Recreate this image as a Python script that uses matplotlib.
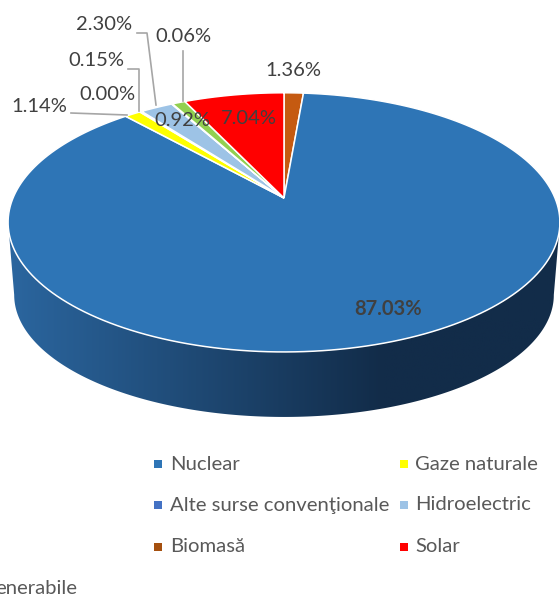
"""3D style pie of the electricity mix, drawn by hand as matplotlib has no 3D pie"""
import numpy as np
import matplotlib
matplotlib.use('Agg')
import matplotlib.pyplot as plt
from matplotlib.patches import Polygon, Rectangle
from matplotlib.colors import LinearSegmentedColormap

plt.rcParams['font.family'] = ['Lato', 'DejaVu Sans']

# slices clockwise from 12 o'clock
slice_values = [1.36, 87.03, 1.14, 0.00, 0.15, 2.30, 0.06, 0.92, 7.04]
slice_colors = ['#c55a11', '#2e75b6', '#ffff00', '#4472c4', '#ed7d31', '#9dc3e6', '#a5a5a5', '#92d050', '#ff0000']
value_labels = ['1.36%', '87.03%', '1.14%', '0.00%', '0.15%', '2.30%', '0.06%', '0.92%', '7.04%']

legend_labels = ['Nuclear', 'Gaze naturale', 'Alte surse convenţionale', 'Hidroelectric', 'Biomasă', 'Solar']
legend_colors = ['#2e75b6', '#ffff00', '#4472c4', '#9dc3e6', '#a5500f', '#ff0000']

# perspective of the disc, in pixels
CX = 284
K = 0.188
TOP = (271, 125, 198)     # width, height, y of the centre
BOTTOM = (265, 117.7, 272)

def rim(theta, shape):
    r, s, y0 = shape
    u, v = np.sin(theta), np.cos(theta)
    return CX + r * u / (1 + K * v), y0 - s * v / (1 + K * v)

fig = plt.figure(figsize=(5.59, 5.96), dpi=100)
ax = fig.add_axes([0, 0, 1, 1])
ax.set_xlim(0, 559)
ax.set_ylim(596, 0)
ax.axis('off')

# side wall with the dark gradient
side_t = np.radians(np.linspace(100.8, 259.2, 300))
xt, yt = rim(side_t, TOP)
xb, yb = rim(side_t, BOTTOM)
side = Polygon(np.r_[np.c_[xt, yt], np.c_[xb, yb][::-1]], closed=True, fc='none', ec='none')
ax.add_patch(side)
cmap = LinearSegmentedColormap.from_list('side', [(0, '#2b669f'), (0.68, '#122c49'), (1, '#122c49')])
img = ax.imshow(np.linspace(0, 1, 256)[None, :], extent=(8, 559, 440, 200), cmap=cmap, aspect='auto', zorder=1)
img.set_clip_path(side)
ax.set_xlim(0, 559)
ax.set_ylim(596, 0)

# top face
edges = np.cumsum([0] + slice_values) / np.sum(slice_values) * 2 * np.pi
for i, color in enumerate(slice_colors):
    if slice_values[i] == 0:
        continue
    t = np.linspace(edges[i], edges[i + 1], 200)
    x, y = rim(t, TOP)
    pts = np.r_[[[CX, TOP[2]]], np.c_[x, y]]
    ax.add_patch(Polygon(pts, closed=True, fc=color, ec='white', lw=1.1, zorder=2))

# leader lines
leaders = [
    [(71, 113), (127, 115)],
    [(128, 69), (139, 69), (139, 111)],
    [(137, 33), (147, 33), (156, 105)],
    [(183, 51), (183, 101)],
]
for line in leaders:
    lx, ly = zip(*line)
    ax.plot(lx, ly, color='#a6a6a6', lw=1.2, zorder=3)

# data labels
label_pos = [(293, 70), (388, 309), (39, 106), (107, 94), (96, 61), (104, 25), (183, 37), (182, 121), (249, 118)]
for text, (lx, ly) in zip(value_labels, label_pos):
    bold = text == '87.03%'
    ax.text(lx, ly, text, ha='center', va='center', fontsize=14.5, color='#404040',
            fontweight='bold' if bold else 'normal', zorder=4)

# legend
legend_x = [(158, 170), (404, 415)]
legend_y = [464, 505, 547]
for i, (name, color) in enumerate(zip(legend_labels, legend_colors)):
    mx, tx = legend_x[i % 2]
    my = legend_y[i // 2]
    ax.add_patch(Rectangle((mx - 4, my - 4), 8, 8, fc=color, ec='none'))
    ax.text(tx, my, name, ha='left', va='center', fontsize=14.6, color='#595959')
ax.text(77, 588, 'enerabile', ha='right', va='center', fontsize=14.6, color='#595959')

fig.savefig('out.png', dpi=100)
